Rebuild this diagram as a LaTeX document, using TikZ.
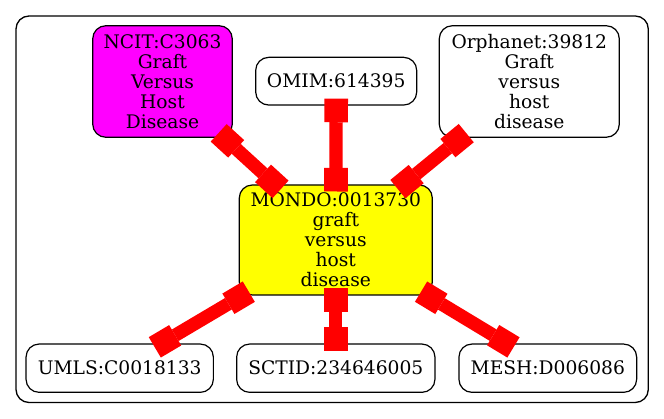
\documentclass[tikz,border=0pt]{standalone}
\usepackage{fontspec}
\setmainfont{DejaVu Serif}
\usetikzlibrary{arrows.meta}
\definecolor{gvmagenta}{RGB}{255,0,255}
\definecolor{gvyellow}{RGB}{255,255,0}
\definecolor{gvred}{RGB}{255,0,0}
\tikzset{
  box/.style={draw=black, line width=1.2pt, rounded corners=13pt, inner sep=0pt, outer sep=0pt,
    align=center, font=\fontsize{18.67}{20}\selectfont, fill=white},
  boxtip/.tip={Square[length=23.7pt,width=23.7pt,line width=0pt,sep=0pt]},
  link/.style={draw=gvred, line width=13.3pt, boxtip-boxtip, shorten <=-6.5pt, shorten >=-6.5pt},
}
\begin{document}
\begin{tikzpicture}[x=1pt,y=-1pt]
\useasboundingbox (0,0) rectangle (664,419);
\draw[line width=1.3pt, rounded corners=13pt] (16,16) rectangle (648.3,402.5);
\node[box, fill=gvmagenta, minimum width=139.5pt, minimum height=111.5pt] (ncit) at (162.5,81.5) {NCIT:C3063\\Graft\\Versus\\Host\\Disease};
\node[box, minimum width=161pt, minimum height=47.7pt] (omim) at (336.2,81.2) {OMIM:614395};
\node[box, minimum width=180pt, minimum height=111.5pt] (orph) at (529.3,81.5) {Orphanet:39812\\Graft\\versus\\host\\disease};
\node[box, fill=gvyellow, minimum width=193pt, minimum height=110pt] (mondo) at (335.8,240) {MONDO:0013730\\graft\\versus\\host\\disease};
\node[box, minimum width=187.3pt, minimum height=48.3pt] (umls) at (119.7,368.2) {UMLS:C0018133};
\node[box, minimum width=198.3pt, minimum height=48.3pt] (sctid) at (335.8,368.2) {SCTID:234646005};
\node[box, minimum width=177.7pt, minimum height=48.3pt] (mesh) at (547.8,368.2) {MESH:D006086};
\draw[link] (ncit) -- (mondo);
\draw[link] (omim) -- (mondo);
\draw[link] (orph) -- (mondo);
\draw[link] (mondo) -- (umls);
\draw[link] (mondo) -- (sctid);
\draw[link] (mondo) -- (mesh);
\end{tikzpicture}
\end{document}
